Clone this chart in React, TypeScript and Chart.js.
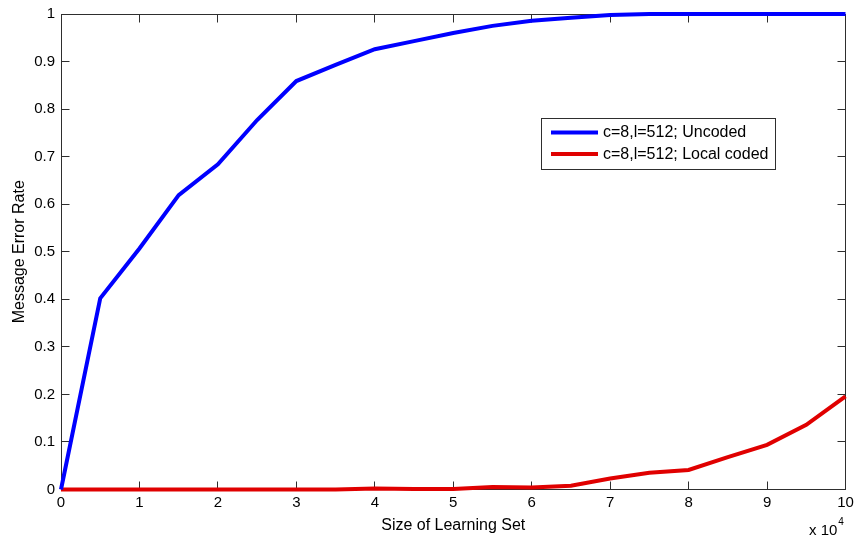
import React, { useEffect, useRef } from "react";
import { Chart, registerables } from "chart.js";

Chart.register(...registerables);

// Size of learning set (x 10^4)
const sizes = [0, 0.5, 1, 1.5, 2, 2.5, 3, 3.5, 4, 4.5, 5, 5.5, 6, 6.5, 7, 7.5, 8, 8.5, 9, 9.5, 10];
const uncoded = [0, 0.402, 0.507, 0.619, 0.684, 0.777, 0.859, 0.893, 0.926, 0.943, 0.96, 0.975, 0.986, 0.992, 0.998, 1, 1, 1, 1, 1, 1];
const localCoded = [0, 0, 0, 0, 0, 0, 0, 0, 0.002, 0.001, 0.001, 0.005, 0.004, 0.008, 0.023, 0.035, 0.041, 0.068, 0.094, 0.136, 0.196];
const seriesLabels = ["c=8,l=512; Uncoded", "c=8,l=512; Local coded"];
const seriesColors = ["#0000ff", "#e00000"];
const xTitle = "Size of Learning Set";
const yTitle = "Message Error Rate";
const xExponentBase = "x 10";
const xExponent = "4";

const FONT = '"Liberation Sans", Arial, Helvetica, sans-serif';

const framePlugin = {
  id: "frame",
  beforeDatasetsDraw(chart: any) {
    const { ctx, chartArea: a, scales } = chart;
    const x = scales.x;
    const y = scales.y;
    const L = Math.floor(a.left) + 0.5;
    const R = Math.floor(a.right) + 0.5;
    const T = Math.floor(a.top) + 0.5;
    const B = Math.floor(a.bottom) + 0.5;
    ctx.save();
    ctx.strokeStyle = "#2e2e2e";
    ctx.lineWidth = 1;
    ctx.strokeRect(L, T, R - L, B - T);
    const len = 8;
    ctx.beginPath();
    x.ticks.forEach((t: any) => {
      const p = Math.floor(x.getPixelForValue(t.value)) + 0.5;
      if (p <= L + 1 || p >= R - 1) return;
      ctx.moveTo(p, B);
      ctx.lineTo(p, B - len);
      ctx.moveTo(p, T);
      ctx.lineTo(p, T + len);
    });
    y.ticks.forEach((t: any) => {
      const p = Math.floor(y.getPixelForValue(t.value)) + 0.5;
      if (p <= T + 1 || p >= B - 1) return;
      ctx.moveTo(L, p);
      ctx.lineTo(L + len, p);
      ctx.moveTo(R, p);
      ctx.lineTo(R - len, p);
    });
    ctx.stroke();
    ctx.restore();
  },
  afterDraw(chart: any) {
    const { ctx } = chart;
    ctx.save();
    // legend box
    const bx = 541.5, by = 118.5, bw = 234, bh = 51;
    ctx.fillStyle = "#ffffff";
    ctx.fillRect(bx, by, bw, bh);
    ctx.strokeStyle = "#2e2e2e";
    ctx.lineWidth = 1;
    ctx.strokeRect(bx, by, bw, bh);
    chart.data.datasets.forEach((ds: any, i: number) => {
      const ly = 132.5 + i * 21.5;
      ctx.strokeStyle = ds.borderColor;
      ctx.lineWidth = 4;
      ctx.beginPath();
      ctx.moveTo(551, ly);
      ctx.lineTo(598, ly);
      ctx.stroke();
      ctx.fillStyle = "#000";
      ctx.font = `16px ${FONT}`;
      ctx.textBaseline = "middle";
      ctx.textAlign = "left";
      ctx.fillText(ds.label, 603, ly + 0.5);
    });
    // exponent label
    ctx.fillStyle = "#000";
    ctx.textBaseline = "alphabetic";
    ctx.textAlign = "left";
    ctx.font = `15px ${FONT}`;
    ctx.fillText(xExponentBase, 809, 535);
    const w = ctx.measureText(xExponentBase).width;
    ctx.font = `10px ${FONT}`;
    ctx.fillText(xExponent, 809 + w + 1, 525);
    ctx.restore();
  },
};

export default function App() {
  const ref = useRef<HTMLCanvasElement | null>(null);
  useEffect(() => {
    if (!ref.current) return;
    const chart = new Chart(ref.current, {
      type: "line",
      data: {
        datasets: [
          {
            label: seriesLabels[0],
            data: sizes.map((s, i) => ({ x: s, y: uncoded[i] })),
            borderColor: seriesColors[0],
            backgroundColor: seriesColors[0],
            borderWidth: 4,
            pointRadius: 0,
            tension: 0,
            clip: false as any,
          },
          {
            label: seriesLabels[1],
            data: sizes.map((s, i) => ({ x: s, y: localCoded[i] })),
            borderColor: seriesColors[1],
            backgroundColor: seriesColors[1],
            borderWidth: 4,
            pointRadius: 0,
            tension: 0,
            clip: false as any,
          },
        ],
      },
      options: {
        animation: false,
        responsive: false,
        maintainAspectRatio: false,
        devicePixelRatio: 1,
        layout: { padding: { left: 0, right: 8.5, top: 14, bottom: 0 } },
        plugins: {
          legend: { display: false },
          tooltip: { enabled: false },
        },
        scales: {
          x: {
            type: "linear",
            min: 0,
            max: 10,
            grid: { display: false, drawTicks: false },
            border: { display: false },
            ticks: {
              stepSize: 1,
              padding: 4,
              color: "#000",
              font: { family: FONT, size: 15 },
              maxRotation: 0,
            },
            title: {
              display: true,
              text: xTitle,
              color: "#000",
              font: { family: FONT, size: 16 },
              padding: { top: 0, bottom: 1.5 },
            },
            afterFit: (s: any) => {
              s.height = 47.5;
              s.paddingRight = 0;
              s.paddingLeft = 0;
            },
          },
          y: {
            type: "linear",
            min: 0,
            max: 1,
            grid: { display: false, drawTicks: false },
            border: { display: false },
            ticks: {
              stepSize: 0.1,
              padding: 6,
              color: "#000",
              font: { family: FONT, size: 15 },
              callback: (v: any) => String(Number(Number(v).toFixed(1))),
            },
            title: {
              display: true,
              text: yTitle,
              color: "#000",
              font: { family: FONT, size: 16 },
              padding: { top: 9.5, bottom: 0 },
            },
            afterFit: (s: any) => {
              s.width = 61;
              s.paddingTop = 0;
              s.paddingBottom = 0;
            },
          },
        },
      },
      plugins: [framePlugin],
    });
    return () => chart.destroy();
  }, []);
  return (
    <div style={{ position: "absolute", left: 0, top: 0, width: 854, height: 537, background: "#fff" }}>
      <canvas ref={ref} width={854} height={537} style={{ display: "block", width: 854, height: 537 }} />
    </div>
  );
}
